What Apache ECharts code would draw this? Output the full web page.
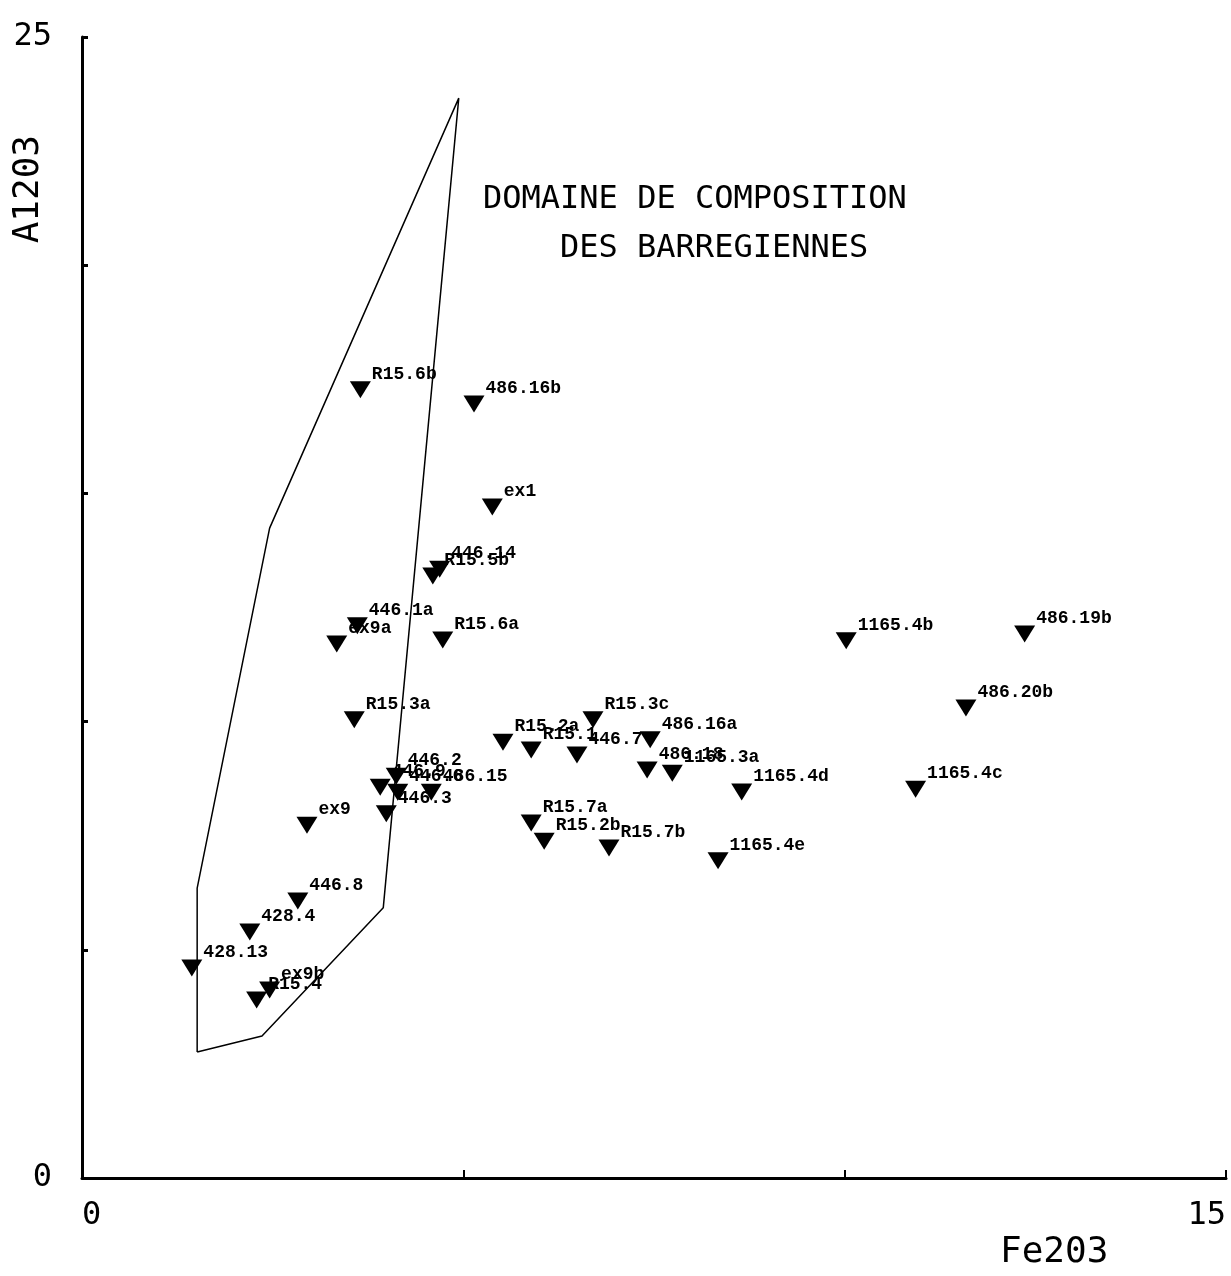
<!DOCTYPE html>
<html>
<head>
<meta charset="utf-8">
<title>Fe2O3 / Al2O3</title>
<script src="https://cdn.jsdelivr.net/npm/echarts@6/dist/echarts.min.js"></script>
<style>
  html, body { margin: 0; padding: 0; background: #fff; }
  #main { width: 1231px; height: 1276px; }
</style>
</head>
<body>
<div id="main"></div>
<script>
// échantillons
var names = ['R15.6b', '486.16b', 'ex1', '446.14', 'R15.5b', '446.1a', 'ex9a', 'R15.6a',
             'R15.3a', 'R15.3c', 'R15.2a', 'R15.1', '446.7', '486.16a', '486.18', '1165.3a',
             '1165.4d', '1165.4c', '486.20b', '486.19b', '1165.4b', 'R15.7a', 'R15.2b', 'R15.7b',
             '1165.4e', '446.2', '446.9', '446.6', '486.15', '446.3', 'ex9', '446.8',
             '428.4', '428.13', 'ex9b', 'R15.4'];
var fe = [3.65, 5.14, 5.38, 4.69, 4.60, 3.61, 3.34, 4.73,
          3.57, 6.70, 5.52, 5.89, 6.49, 7.45, 7.41, 7.74,
          8.65, 10.93, 11.59, 12.36, 10.02, 5.89, 6.06, 6.91,
          8.34, 4.12, 3.91, 4.14, 4.58, 3.99, 2.95, 2.83,
          2.20, 1.44, 2.46, 2.29];
var al = [17.27, 16.96, 14.70, 13.34, 13.19, 12.10, 11.70, 11.79,
          10.04, 10.04, 9.55, 9.38, 9.27, 9.60, 8.94, 8.87,
          8.46, 8.52, 10.30, 11.92, 11.77, 7.78, 7.38, 7.23,
          6.95, 8.80, 8.56, 8.45, 8.45, 7.98, 7.73, 6.07,
          5.39, 4.60, 4.12, 3.90];

// domaine de composition des barregiennes (contour)
var domainFe = [1.51, 2.36, 3.95, 4.94, 2.46, 1.51, 1.51];
var domainAl = [2.76, 3.11, 5.92, 23.66, 14.24, 6.35, 2.76];

var xTicks = [0, 15];
var yTicks = [0, 25];

var points = [];
for (var i = 0; i < names.length; i++) {
    points.push({ value: [fe[i], al[i]], name: names[i] });
}
var domain = [];
for (var j = 0; j < domainFe.length; j++) {
    domain.push([domainFe[j], domainAl[j]]);
}

var mono = 'DejaVu Sans Mono';

var option = {
    backgroundColor: '#fff',
    animation: false,
    grid: { left: 82, right: 5, top: 37, bottom: 98, containLabel: false, outerBoundsMode: 'none' },
    xAxis: {
        type: 'value', min: 0, max: 15, interval: 5,
        axisLine: { lineStyle: { color: '#000', width: 3 } },
        axisTick: { inside: true, length: 8, lineStyle: { color: '#000', width: 2 } },
        splitLine: { show: false },
        axisLabel: {
            margin: 22, color: '#000', fontFamily: mono, fontSize: 32,
            showMinLabel: true, showMaxLabel: true,
            alignMinLabel: 'left', alignMaxLabel: 'right',
            formatter: function (v) { return xTicks.indexOf(v) >= 0 ? String(v) : ''; }
        }
    },
    yAxis: {
        type: 'value', min: 0, max: 25, interval: 5,
        axisLine: { lineStyle: { color: '#000', width: 3 } },
        axisTick: { inside: true, length: 6, lineStyle: { color: '#000', width: 3 } },
        splitLine: { show: false },
        axisLabel: {
            margin: 30, color: '#000', fontFamily: mono, fontSize: 32,
            formatter: function (v) { return yTicks.indexOf(v) >= 0 ? String(v) : ''; }
        }
    },
    series: [
        {
            type: 'line',
            data: domain,
            symbol: 'none',
            silent: true,
            lineStyle: { color: '#000', width: 1.5, opacity: 1 }
        },
        {
            type: 'scatter',
            data: points,
            symbol: 'triangle',
            symbolRotate: 180,
            symbolSize: [21, 17],
            itemStyle: { color: '#000', opacity: 1 },
            label: {
                show: true,
                formatter: '{b}',
                position: [22, -7],
                align: 'left',
                verticalAlign: 'middle',
                color: '#000',
                opacity: 1,
                fontFamily: 'Liberation Mono',
                fontWeight: 'bold',
                fontSize: 18
            }
        }
    ],
    graphic: [
        {
            type: 'text', left: 483, top: 184,
            style: { text: 'DOMAINE DE COMPOSITION', font: '32px "DejaVu Sans Mono"', fill: '#000' }
        },
        {
            type: 'text', left: 560, top: 233,
            style: { text: 'DES BARREGIENNES', font: '32px "DejaVu Sans Mono"', fill: '#000' }
        },
        {
            type: 'text', left: 1000, top: 1235,
            style: { text: 'Fe203', font: '36px "DejaVu Sans Mono"', fill: '#000' }
        },
        {
            type: 'text', left: 11, top: 135, rotation: Math.PI / 2,
            style: { text: 'A1203', font: '36px "DejaVu Sans Mono"', fill: '#000' }
        }
    ]
};

var myChart = echarts.init(document.getElementById('main'));
myChart.setOption(option);
</script>
</body>
</html>
